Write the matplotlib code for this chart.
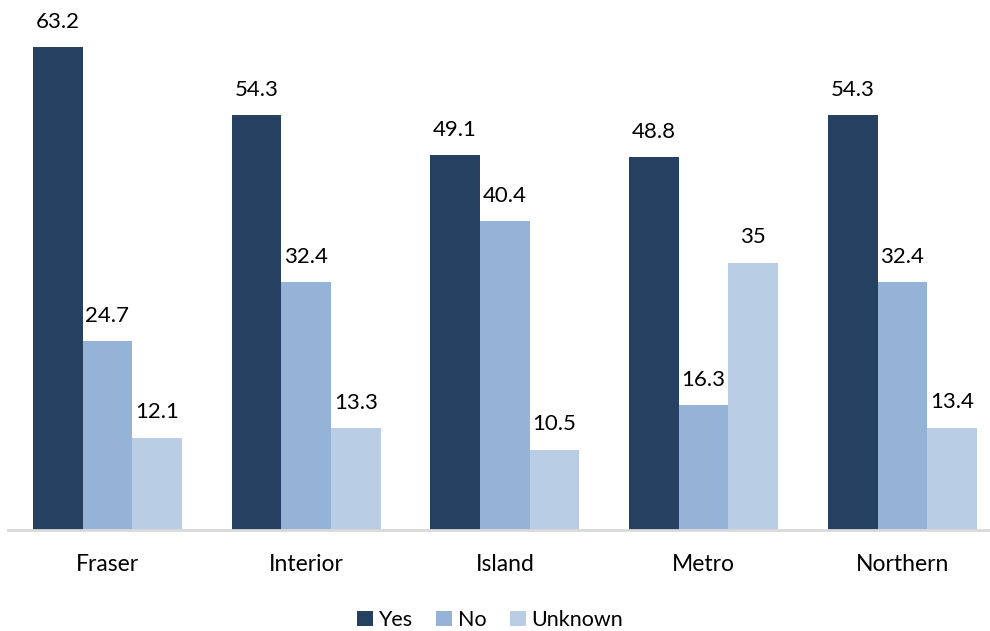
import matplotlib
matplotlib.use("Agg")
import matplotlib.pyplot as plt
import numpy as np

categories = ["Fraser", "Interior", "Island", "Metro", "Northern"]
series_names = ["Yes", "No", "Unknown"]
yes = [63.2, 54.3, 49.1, 48.8, 54.3]
no = [24.7, 32.4, 40.4, 16.3, 32.4]
unknown = [12.1, 13.3, 10.5, 35, 13.4]
labels_yes = ["63.2", "54.3", "49.1", "48.8", "54.3"]
labels_no = ["24.7", "32.4", "40.4", "16.3", "32.4"]
labels_unknown = ["12.1", "13.3", "10.5", "35", "13.4"]

colors = ["#264061", "#95B3D7", "#B9CDE5"]

plt.rcParams['font.family'] = ['Lato', 'DejaVu Sans']

fig = plt.figure(figsize=(9.9, 6.31), dpi=100)
W, H = 990, 631
ax = fig.add_axes([8 / W, (H - 530) / H, (W - 8) / W, 530 / H])

x = np.arange(len(categories))
bw = 0.25
all_vals = [yes, no, unknown]
all_labels = [labels_yes, labels_no, labels_unknown]
handles = []
for i, (vals, labs, c, name) in enumerate(zip(all_vals, all_labels, colors, series_names)):
    bars = ax.bar(x + (i - 1) * bw, vals, width=bw, color=c, label=name, zorder=2)
    handles.append(bars)
    for b, lab in zip(bars, labs):
        ax.annotate(lab, (b.get_x() + b.get_width() / 2, b.get_height()),
                    xytext=(0, 11), textcoords="offset points",
                    ha="center", va="bottom", fontsize=16, color="#000000")

ax.set_xlim(-0.5, -0.5 + 982 / 198.75)
ax.set_ylim(0, 530 / 7.642)
ax.set_xticks(x)
ax.set_xticklabels(categories, fontsize=16.5)
ax.tick_params(axis="x", length=0, pad=17)
ax.set_yticks([])
for s in ["top", "right", "left"]:
    ax.spines[s].set_visible(False)
ax.spines["bottom"].set_color("#D9D9D9")
ax.spines["bottom"].set_linewidth(2)

fig.legend(handles=handles, labels=series_names, loc="center",
           bbox_to_anchor=(490 / W, 11 / H), ncol=3, frameon=False,
           fontsize=15.5, handlelength=0.75, handleheight=0.75,
           handletextpad=0.25, columnspacing=1.1)

fig.savefig("out.png", dpi=100)
